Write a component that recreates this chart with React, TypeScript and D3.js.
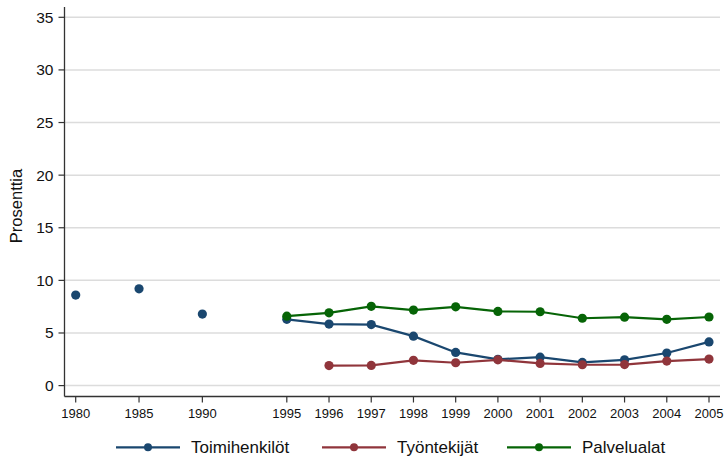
import React from "react";
import * as d3 from "d3";

const years = [1980, 1985, 1990, 1995, 1996, 1997, 1998, 1999, 2000, 2001, 2002, 2003, 2004, 2005];
const toimihenkilot: (number | null)[] = [8.6, 9.2, 6.8, 6.3, 5.85, 5.8, 4.7, 3.15, 2.5, 2.7, 2.2, 2.45, 3.1, 4.15];
const tyontekijat: (number | null)[] = [null, null, null, null, 1.9, 1.92, 2.4, 2.17, 2.45, 2.11, 1.98, 2.0, 2.33, 2.52];
const palvelualat: (number | null)[] = [null, null, null, 6.6, 6.92, 7.53, 7.18, 7.49, 7.05, 7.02, 6.4, 6.5, 6.3, 6.52];
const yTicks = [0, 5, 10, 15, 20, 25, 30, 35];
const seriesNames = ["Toimihenkilöt", "Työntekijät", "Palvelualat"];
const seriesColors = ["#1a476f", "#90353b", "#066406"];
// which years are connected by lines (1995 onward)
const lineFrom = 1995;

export default function App() {
  const W = 724, H = 461;
  const font = "'Liberation Sans', Arial, Helvetica, sans-serif";
  const unit = (709 - 75.7) / 15;
  const x = d3.scaleLinear()
    .domain([1980, 1990, 1995, 2005])
    .range([75.7, 75.7 + 3 * unit, 75.7 + 5 * unit, 709]);
  const y = d3.scaleLinear().domain([0, 35]).range([385.6, 17.3]);
  const left = 64.5, right = 720, axisY = 396.5;

  const series = [toimihenkilot, tyontekijat, palvelualat];
  const line = d3.line<[number, number | null]>()
    .defined(d => d[1] != null && d[0] >= lineFrom)
    .x(d => x(d[0]))
    .y(d => y(d[1] as number));

  const legendX = [116, 322, 507];

  return (
    <svg width={W} height={H} style={{ position: "absolute", left: 0, top: 0, background: "#fff" }} fontFamily={font}>
      {yTicks.map(t => (
        <line key={"g" + t} x1={left} x2={right} y1={y(t)} y2={y(t)} stroke="#dcdcdc" strokeWidth={1.5} />
      ))}
      <line x1={left} x2={left} y1={7} y2={axisY} stroke="#333" strokeWidth={1.3} />
      <line x1={left} x2={right} y1={axisY} y2={axisY} stroke="#333" strokeWidth={1.3} />
      {yTicks.map(t => (
        <g key={"yt" + t}>
          <line x1={left - 6} x2={left} y1={y(t)} y2={y(t)} stroke="#333" strokeWidth={1.2} />
          <text x={53.5} y={y(t)} dy="0.35em" textAnchor="end" fontSize={15.5} fill="#111">{t}</text>
        </g>
      ))}
      {years.map(yr => (
        <g key={"xt" + yr}>
          <line x1={x(yr)} x2={x(yr)} y1={axisY} y2={axisY + 6} stroke="#333" strokeWidth={1.2} />
          <text x={x(yr)} y={418} textAnchor="middle" fontSize={13} fill="#111">{yr}</text>
        </g>
      ))}
      <text transform="translate(22,206) rotate(-90)" textAnchor="middle" fontSize={16.5} fill="#111">Prosenttia</text>
      {series.map((s, i) => {
        const pts = years.map((yr, j) => [yr, s[j]] as [number, number | null]);
        return (
          <g key={"s" + i}>
            <path d={line(pts) || ""} fill="none" stroke={seriesColors[i]} strokeWidth={2.2} />
            {pts.filter(p => p[1] != null).map(p => (
              <circle key={p[0]} cx={x(p[0])} cy={y(p[1] as number)} r={4.6} fill={seriesColors[i]} />
            ))}
          </g>
        );
      })}
      {seriesNames.map((n, i) => (
        <g key={"l" + i} transform={`translate(${legendX[i]},447.3)`}>
          <line x1={0} x2={64} y1={0} y2={0} stroke={seriesColors[i]} strokeWidth={2.2} />
          <circle cx={32} cy={0} r={4} fill={seriesColors[i]} />
          <text x={75} y={0} dy="0.35em" fontSize={17} fill="#111">{n}</text>
        </g>
      ))}
    </svg>
  );
}
